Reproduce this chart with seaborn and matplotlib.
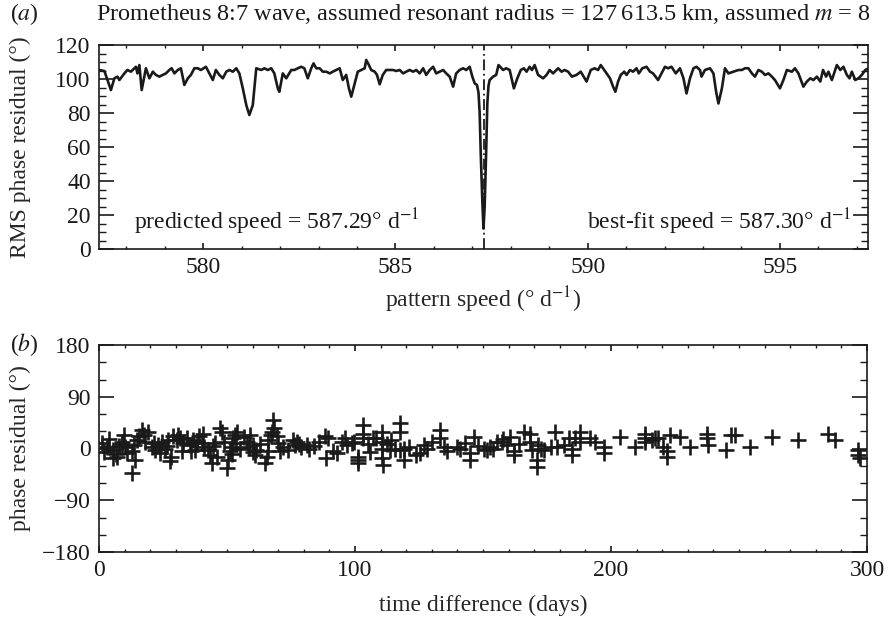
import numpy as np
import pandas as pd
import matplotlib
matplotlib.use("Agg")
import matplotlib.pyplot as plt
from matplotlib.ticker import MultipleLocator
import seaborn as sns

# panel (a): RMS phase residual vs trial pattern speed
pattern_speed = [577.30, 577.43, 577.60, 577.69, 577.77, 577.82, 577.95, 578.03, 578.12, 578.25,
                 578.29, 578.34, 578.40, 578.51, 578.60, 578.69, 578.77, 578.86, 578.95, 579.03,
                 579.12, 579.18, 579.25, 579.34, 579.42, 579.51, 579.60, 579.68, 579.77, 579.86,
                 579.94, 580.07, 580.16, 580.25, 580.33, 580.42, 580.51, 580.60, 580.68, 580.77,
                 580.86, 580.94, 581.03, 581.12, 581.20, 581.29, 581.38, 581.51, 581.59, 581.68,
                 581.77, 581.85, 581.94, 581.98, 582.07, 582.16, 582.29, 582.37, 582.46, 582.55,
                 582.63, 582.72, 582.81, 582.87, 582.94, 583.03, 583.11, 583.20, 583.29, 583.37,
                 583.46, 583.55, 583.63, 583.72, 583.79, 583.85, 583.94, 584.02, 584.11, 584.20,
                 584.24, 584.31, 584.37, 584.46, 584.52, 584.59, 584.67, 584.76, 584.85, 584.94,
                 585.02, 585.11, 585.20, 585.28, 585.37, 585.46, 585.54, 585.63, 585.72, 585.80,
                 585.89, 585.98, 586.06, 586.15, 586.24, 586.32, 586.41, 586.50, 586.58, 586.67,
                 586.76, 586.84, 586.93, 587.00, 587.06, 587.12, 587.16, 587.19, 587.22, 587.26,
                 587.29, 587.32, 587.36, 587.39, 587.42, 587.45, 587.54, 587.62, 587.68, 587.80,
                 587.88, 587.97, 588.08, 588.17, 588.26, 588.34, 588.41, 588.49, 588.55, 588.62,
                 588.71, 588.84, 588.93, 589.01, 589.10, 589.23, 589.32, 589.40, 589.49, 589.59,
                 589.71, 589.82, 589.92, 589.97, 590.08, 590.18, 590.27, 590.34, 590.43, 590.49,
                 590.58, 590.66, 590.72, 590.79, 590.86, 590.95, 591.01, 591.10, 591.18, 591.27,
                 591.33, 591.42, 591.53, 591.62, 591.70, 591.83, 591.92, 592.01, 592.09, 592.18,
                 592.29, 592.40, 592.49, 592.57, 592.66, 592.75, 592.83, 592.92, 592.96, 593.05,
                 593.18, 593.27, 593.34, 593.40, 593.49, 593.57, 593.66, 593.79, 593.92, 594.01,
                 594.09, 594.18, 594.27, 594.35, 594.44, 594.53, 594.61, 594.70, 594.79, 594.87,
                 595.00, 595.09, 595.18, 595.31, 595.39, 595.48, 595.61, 595.70, 595.79, 595.87,
                 595.96, 596.05, 596.12, 596.20, 596.26, 596.35, 596.48, 596.57, 596.65, 596.74,
                 596.81, 596.87, 596.96, 597.04, 597.13, 597.22, 597.30]
rms_residual = [105.3, 104.7, 93.5, 100.4, 101.4, 99.4, 103.3, 105.3, 104.3, 107.2,
                103.3, 108.2, 93.5, 106.3, 100.4, 104.3, 102.4, 101.4, 102.4, 103.3,
                105.3, 106.3, 103.3, 105.3, 106.3, 96.5, 100.4, 102.4, 106.3, 106.3,
                105.3, 107.2, 103.3, 99.4, 105.3, 102.4, 100.4, 104.3, 105.3, 104.3,
                106.3, 103.3, 94.5, 84.7, 78.8, 84.7, 106.3, 105.3, 106.3, 105.3,
                106.3, 103.3, 94.5, 92.5, 103.3, 100.4, 105.3, 105.3, 106.3, 107.2,
                106.3, 100.4, 106.3, 109.2, 106.3, 106.3, 104.3, 104.3, 103.3, 104.3,
                105.3, 106.3, 99.4, 102.4, 94.5, 89.6, 97.5, 104.3, 105.3, 106.3,
                111.2, 108.2, 105.3, 104.3, 102.4, 96.9, 102.4, 105.3, 105.3, 105.3,
                104.7, 105.3, 103.3, 104.3, 105.3, 104.3, 105.3, 103.3, 106.3, 102.4,
                105.3, 107.2, 103.3, 104.3, 105.3, 103.3, 101.4, 95.5, 103.3, 105.3,
                106.3, 105.3, 107.2, 101.4, 97.5, 96.5, 92.0, 80.0, 55.0, 28.0,
                12.0, 25.0, 58.0, 86.0, 96.0, 99.4, 101.4, 102.4, 108.2, 105.3,
                106.3, 105.3, 94.5, 100.4, 105.3, 106.3, 104.3, 107.2, 105.3, 108.2,
                102.4, 100.4, 102.4, 105.3, 103.3, 106.3, 104.3, 105.3, 104.3, 101.4,
                102.4, 104.3, 100.4, 98.5, 105.3, 106.3, 105.3, 108.2, 105.3, 103.3,
                100.4, 95.5, 92.5, 98.5, 102.4, 104.3, 102.4, 105.3, 104.3, 106.3,
                103.3, 106.3, 107.2, 104.3, 103.3, 99.4, 103.3, 107.2, 106.3, 107.2,
                103.3, 106.3, 100.4, 91.5, 100.4, 106.3, 107.2, 105.3, 101.4, 105.3,
                106.3, 103.3, 92.5, 85.6, 94.5, 106.3, 103.3, 104.3, 105.3, 105.3,
                106.3, 106.3, 103.3, 101.4, 105.3, 104.3, 102.4, 103.3, 101.4, 99.4,
                94.5, 99.4, 105.3, 104.3, 106.3, 103.3, 95.5, 98.5, 100.4, 99.4,
                101.4, 98.5, 105.3, 101.4, 104.3, 99.4, 108.2, 105.3, 107.2, 102.4,
                100.4, 104.3, 99.4, 100.4, 102.4, 105.3, 106.3]
predicted_speed = 587.29
best_fit_speed = 587.30

# panel (b): phase residual vs time difference
time_diff = [1.0, 3.0, 5.6, 5.6, 6.5, 8.0, 8.9, 9.6, 10.2, 11.0,
             12.8, 12.8, 13.5, 14.7, 15.5, 16.7, 17.5, 18.0, 20.6, 22.0,
             23.2, 24.0, 24.5, 25.8, 26.5, 27.7, 28.2, 29.0, 30.3, 31.0,
             31.6, 33.0, 35.5, 36.0, 36.9, 37.5, 38.2, 39.0, 40.1, 41.0,
             42.7, 43.2, 44.0, 44.5, 47.3, 48.0, 49.0, 49.9, 50.5, 51.0,
             51.8, 52.5, 53.1, 53.5, 54.0, 55.0, 57.7, 58.5, 59.0, 60.3,
             61.0, 61.5, 64.8, 65.5, 66.1, 67.0, 67.4, 68.1, 68.5, 69.5,
             70.7, 72.0, 75.9, 76.5, 77.5, 79.0, 81.1, 82.0, 88.3, 88.8,
             89.5, 91.5, 95.0, 96.1, 97.0, 98.7, 101.3, 101.3, 101.3, 103.3,
             103.3, 103.3, 105.2, 107.0, 108.3, 110.4, 110.4, 110.4, 110.4, 111.0,
             113.7, 115.6, 117.6, 117.6, 117.6, 119.0, 119.0, 124.0, 125.3, 127.0,
             128.3, 133.3, 133.3, 134.6, 139.8, 141.1, 145.0, 145.0, 146.3, 150.3,
             151.6, 152.9, 155.5, 157.5, 159.4, 160.7, 162.0, 162.0, 165.9, 168.5,
             168.5, 169.2, 171.5, 171.1, 171.1, 172.5, 176.4, 178.3, 179.0, 181.6,
             183.5, 184.8, 184.8, 188.0, 188.0, 191.9, 193.9, 197.2, 197.2, 203.7,
             209.5, 213.4, 213.4, 213.4, 216.0, 217.3, 218.5, 220.5, 221.8, 221.8,
             223.1, 227.0, 230.9, 237.4, 237.4, 238.0, 245.0, 247.0, 248.3, 254.3,
             262.8, 273.2, 284.9, 287.5, 296.6, 296.6, 297.2,
             2.0, 4.0, 7.0, 9.0, 14.0, 19.0, 21.5, 27.0, 32.5, 34.5,
             40.5, 45.5, 46.0, 52.0, 56.5, 60.0, 63.0, 66.0, 70.0, 74.0,
             78.0, 84.0, 86.0, 93.0, 99.5, 106.0, 112.5, 114.0, 121.0, 130.0,
             136.0, 143.0, 148.0, 154.0, 158.0, 164.0, 174.0, 186.0]
phase_resid = [9, 2, -3, -17, -10, 4, 12, 23, 3, -8,
               -5, -43, 6, 15, 21, 33, 24, 12, 3, -2,
               6, -8, 12, 0, 4, -22, -14, 21, 15, 24,
               18, 9, 6, -5, 15, -2, 12, 21, 9, 3,
               -2, -11, -25, 4, 36, 29, 12, -34, -20, -5,
               3, 18, 24, 9, 29, 0, 12, 3, 23, 6,
               -11, -2, -25, -14, 15, 24, 29, 50, 36, 21,
               -5, 3, 15, 6, 12, 3, 6, 0, 21, -16,
               18, -5, 12, 18, 6, 9, -14, -20, -25, 41,
               26, 18, 7, 18, 18, 29, 12, 0, -17, -28,
               -2, 0, -2, 44, 29, 0, -20, -11, -8, 6,
               0, 32, 18, 3, 3, 0, -20, -8, 20, 0,
               -2, 3, 12, 12, 6, 20, -5, -11, 29, 26,
               12, -2, 6, -20, -32, 0, 3, 29, 3, 6,
               18, -11, 0, 29, 12, 18, 12, 3, -8, 20,
               3, 26, 12, 18, 15, 18, 18, 3, -5, -14,
               23, 20, 3, 26, 18, 6, -2, 23, 23, 3,
               20, 15, 26, 15, -2, -11, -17,
               -6, 16, -14, 8, -20, 28, 10, 14, -4, 18,
               26, 10, -15, -10, 20, -6, 8, -4, 10, -2,
               8, 4, 12, -8, 12, -6, 8, 14, 3, 12,
               -4, 10, 4, 0, 16, 8, -3, 18]

sns.set_style("ticks")
plt.rcParams['font.family'] = ['Liberation Serif', 'DejaVu Serif']
plt.rcParams['mathtext.fontset'] = 'stix'
plt.rcParams['axes.linewidth'] = 1.2
plt.rcParams['axes.edgecolor'] = '#1a1a1a'
plt.rcParams['text.color'] = '#1a1a1a'
plt.rcParams['xtick.color'] = '#1a1a1a'
plt.rcParams['ytick.color'] = '#1a1a1a'

fs = 17
ink = '#1a1a1a'

fig = plt.figure(figsize=(8.88, 6.25), dpi=100)
ax1 = fig.add_axes([99/888, 1-249/625, 769/888, 204/625])
ax2 = fig.add_axes([99/888, 1-552/625, 768/888, 207/625])

# ---- panel a
top = pd.DataFrame({'speed': pattern_speed, 'rms': rms_residual})
sns.lineplot(data=top, x='speed', y='rms', ax=ax1, color=ink, lw=1.9, sort=False)
ax1.axvline(predicted_speed, color=ink, lw=1.3, ls=(0, (6, 2, 1, 2)))
ax1.set_xlim(predicted_speed - 10, predicted_speed + 10)
ax1.set_ylim(0, 120)
ax1.xaxis.set_major_locator(MultipleLocator(5))
ax1.xaxis.set_minor_locator(MultipleLocator(1))
ax1.yaxis.set_major_locator(MultipleLocator(20))
ax1.yaxis.set_minor_locator(MultipleLocator(5))
ax1.set_xlabel(r"pattern speed (° d$^{-1}$)", fontsize=fs)
ax1.set_ylabel("RMS phase residual (°)", fontsize=fs)
ax1.text(578.2, 11.5, r"predicted speed = 587.29° d$^{-1}$", fontsize=fs, ha='left', va='baseline')
ax1.text(596.85, 11.5, r"best-fit speed = 587.30° d$^{-1}$", fontsize=fs, ha='right', va='baseline')

# ---- panel b
bot = pd.DataFrame({'days': time_diff, 'phase': phase_resid})
sns.scatterplot(data=bot, x='days', y='phase', ax=ax2, marker='+', color=ink,
                s=130, linewidth=1.9)
ax2.set_xlim(0, 300)
ax2.set_ylim(-180, 180)
ax2.xaxis.set_major_locator(MultipleLocator(100))
ax2.xaxis.set_minor_locator(MultipleLocator(10))
ax2.yaxis.set_major_locator(MultipleLocator(90))
ax2.yaxis.set_minor_locator(MultipleLocator(30))
ax2.set_xlabel("time difference (days)", fontsize=fs)
ax2.set_ylabel("phase residual (°)", fontsize=fs)

for ax in (ax1, ax2):
    ax.tick_params(which='both', direction='in', top=True, right=True, labelsize=fs)
    ax.tick_params(axis='y', which='major', length=10.5, width=1.2, pad=6)
    ax.tick_params(axis='y', which='minor', length=5, width=1.0)
    ax.tick_params(axis='x', which='major', length=4, width=1.2, pad=6)
    ax.tick_params(axis='x', which='minor', length=2.2, width=1.0)
    ax.yaxis.set_label_coords(-0.088, 0.5)

ax1.xaxis.set_label_coords(0.5, -0.175)
ax2.xaxis.set_label_coords(0.5, -0.205)

fig.text(10/888, 1-14/625, r"($a$)", fontsize=fs, va='center', ha='left')
fig.text(10/888, 1-345/625, r"($b$)", fontsize=fs, va='center', ha='left')
fig.text(483/888, 1-14/625,
         "Prometheus 8:7 wave, assumed resonant radius = 127\u2009613.5 km, assumed $m$ = 8",
         fontsize=17.5, ha='center', va='center')

fig.savefig("out.png", dpi=100)
